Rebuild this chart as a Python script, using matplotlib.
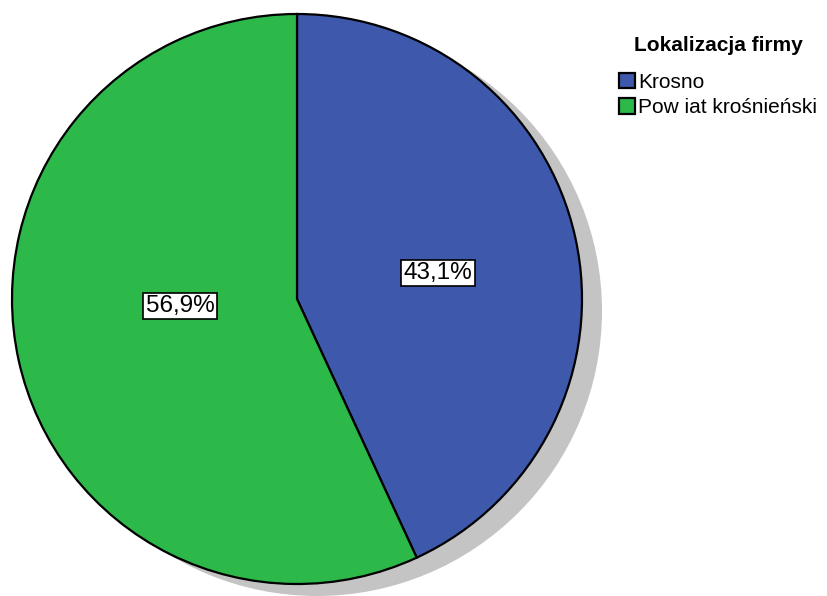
import matplotlib
matplotlib.use("Agg")
import matplotlib.pyplot as plt
from matplotlib.patches import Circle

# share of firms by location
labels = ["Krosno", "Pow iat krośnieński"]
shares = [43.1, 56.9]
value_labels = ["43,1%", "56,9%"]
colors = ["#3e58ac", "#2db84a"]

plt.rcParams["font.family"] = ["Liberation Sans", "DejaVu Sans"]

W, H = 827, 596
fig = plt.figure(figsize=(W / 100, H / 100), dpi=100)
ax = fig.add_axes([0, 0, 1, 1])

cx, cy, r = 297, H - 299, 285

# drop shadow behind the pie
ax.add_patch(Circle((cx + 20, cy - 12), r, facecolor="#c4c4c4",
                    edgecolor="none", zorder=1))

wedges, _ = ax.pie(shares, colors=colors, startangle=90, counterclock=False,
                   center=(cx, cy), radius=r, frame=True,
                   wedgeprops=dict(edgecolor="black", linewidth=1.6))
for w in wedges:
    w.set_zorder(2)
ax.set_xlim(0, W)
ax.set_ylim(0, H)
ax.set_aspect("equal")
ax.axis("off")

# percentage boxes
label_pos = [(438, H - 273), (180, H - 306)]
for (x, y), t in zip(label_pos, value_labels):
    ax.text(x, y, t, ha="center", va="center", fontsize=17.5, zorder=5,
            bbox=dict(boxstyle="square,pad=0.1", facecolor="white",
                      edgecolor="black", linewidth=1.2))

leg = ax.legend(wedges, labels, title="Lokalizacja firmy", loc="upper left",
                bbox_to_anchor=(619 / W, 1 - 36 / H), frameon=False,
                fontsize=15, title_fontsize=15, handlelength=0.75,
                handleheight=0.75, handletextpad=0.15, labelspacing=0.3,
                borderaxespad=0, borderpad=0)
leg.get_title().set_fontweight("bold")
leg._legend_box.sep = 13

fig.savefig("out.png", dpi=100)
